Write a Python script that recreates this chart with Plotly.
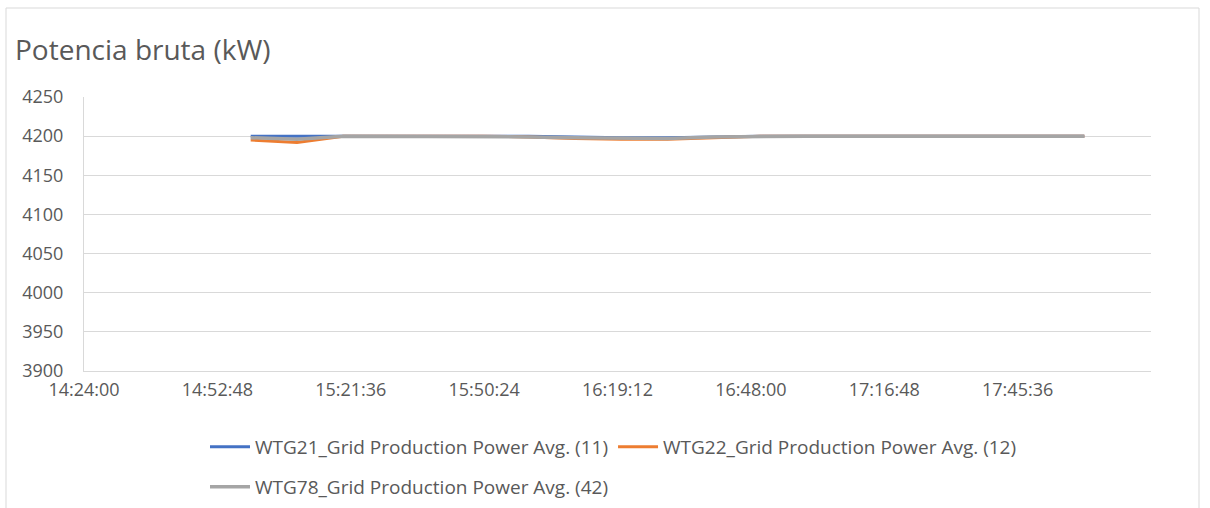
import plotly.graph_objects as go
from datetime import datetime

# ---------------- data ----------------
times = ["15:00", "15:10", "15:20", "15:30", "15:40", "15:50", "16:00", "16:10",
         "16:20", "16:30", "16:40", "16:50", "17:00", "17:10", "17:20", "17:30",
         "17:40", "17:50", "18:00"]
wtg21 = [4200, 4200, 4200, 4200, 4200, 4200, 4200, 4199, 4198, 4198, 4199,
         4200, 4200, 4200, 4200, 4200, 4200, 4200, 4200]
wtg22 = [4195, 4192, 4200, 4200, 4200, 4200, 4199, 4197, 4196, 4196, 4198,
         4200, 4200, 4200, 4200, 4200, 4200, 4200, 4200]
wtg78 = [4198, 4196, 4200, 4200, 4200, 4200, 4199, 4198, 4197, 4197, 4199,
         4200, 4200, 4200, 4200, 4200, 4200, 4200, 4200]
series_names = ["WTG21_Grid Production Power Avg. (11)",
                "WTG22_Grid Production Power Avg. (12)",
                "WTG78_Grid Production Power Avg. (42)"]
series_colors = ["#4472C4", "#ED7D31", "#A5A5A5"]
x_tick_labels = ["14:24:00", "14:52:48", "15:21:36", "15:50:24", "16:19:12",
                 "16:48:00", "17:16:48", "17:45:36"]
x_range = ["14:24:00", "18:14:24"]
y_range = [3900, 4250]
title_text = "Potencia bruta (kW)"

DAY = "2024-01-01 "
def to_dt(s):
    fmt = "%Y-%m-%d %H:%M:%S" if s.count(":") == 2 else "%Y-%m-%d %H:%M"
    return datetime.strptime(DAY + s, fmt)

xs = [to_dt(t) for t in times]

TXT = "#595959"
FONT = "Open Sans"

fig = go.Figure()
for i, (name, vals, col) in enumerate(zip(series_names, [wtg21, wtg22, wtg78], series_colors)):
    fig.add_trace(go.Scatter(
        x=xs, y=vals, mode="lines", name=name,
        line=dict(color=col, width=3 if i < 2 else 3.5),
        legend="legend" if i < 2 else "legend2",
    ))

# plot area in pixels: left 84, right 1151, top 97, bottom 371
L, R, T, B = 84, 1151, 97, 371
W, H = 1210, 508
pw, ph = R - L, B - T

def px_x(p):
    return (p - L) / pw

def px_y(p):
    return (B - p) / ph

fig.update_layout(
    width=W, height=H,
    margin=dict(l=L, r=W - R, t=T, b=H - B, autoexpand=False),
    paper_bgcolor="white", plot_bgcolor="white",
    font=dict(family=FONT, color=TXT, size=18),
    title=dict(text=title_text, x=15 / W, xanchor="left", xref="container",
               y=1 - 50 / H, yanchor="middle", yref="container",
               font=dict(family=FONT, size=28, color=TXT)),
    showlegend=True,
    legend=dict(orientation="h", x=px_x(205), xanchor="left", y=px_y(447), yanchor="middle",
                font=dict(family=FONT, size=19, color=TXT), bgcolor="rgba(0,0,0,0)",
                itemwidth=40, traceorder="normal"),
    legend2=dict(orientation="h", x=px_x(205), xanchor="left", y=px_y(487), yanchor="middle",
                 font=dict(family=FONT, size=19, color=TXT), bgcolor="rgba(0,0,0,0)",
                 itemwidth=40),
    xaxis=dict(
        type="date",
        range=[to_dt(x_range[0]), to_dt(x_range[1])],
        tickmode="array",
        tickvals=[to_dt(t) for t in x_tick_labels],
        ticktext=x_tick_labels,
        showgrid=False, zeroline=False,
        showline=True, linecolor="#D9D9D9", linewidth=1,
        ticks="", tickfont=dict(family=FONT, size=18, color=TXT),
        ticklabelstandoff=2,
    ),
    yaxis=dict(
        range=y_range, tick0=3900, dtick=50,
        showgrid=True, gridcolor="#D9D9D9", gridwidth=1,
        zeroline=False, showline=True, linecolor="#D9D9D9", linewidth=1,
        ticks="", tickfont=dict(family=FONT, size=18, color=TXT),
        ticklabelstandoff=16,
    ),
    shapes=[dict(type="rect", xref="paper", yref="paper",
                 x0=px_x(6), x1=px_x(1199), y0=px_y(520), y1=px_y(8),
                 line=dict(color="#D9D9D9", width=1), fillcolor="rgba(0,0,0,0)", layer="below")],
)

fig.write_html(
    "out.html",
    config={"displayModeBar": False},
    post_script="document.body.style.margin='0';document.documentElement.style.overflow='hidden';",
)
